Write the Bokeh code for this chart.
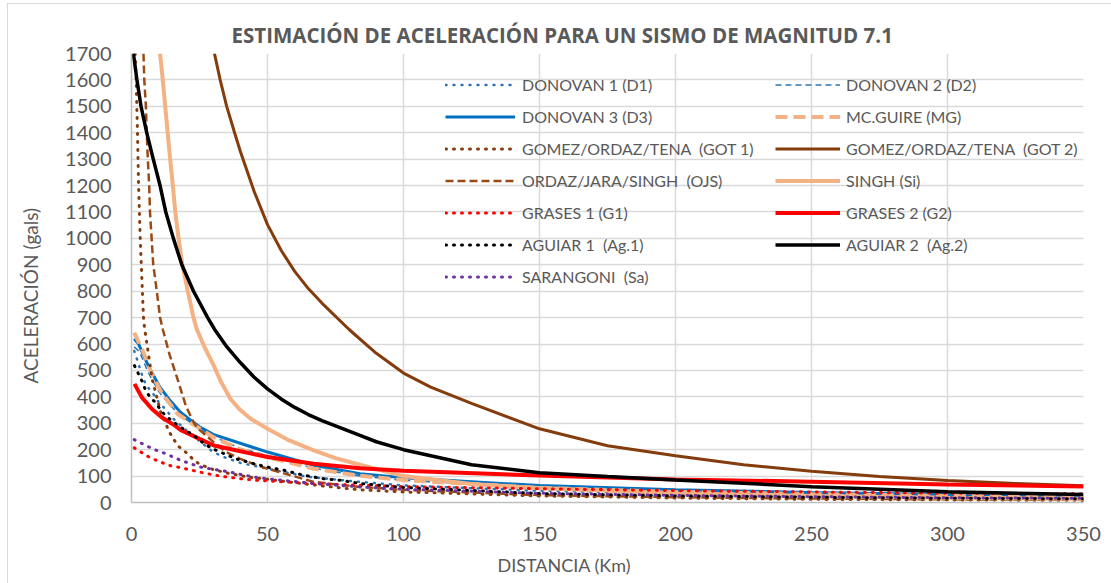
from bokeh.plotting import figure
from bokeh.models import Legend, LegendItem, FixedTicker, Range1d, Title
from bokeh.embed import file_html
from bokeh.resources import INLINE

TITLE = "ESTIMACIÓN DE ACELERACIÓN PARA UN SISMO DE MAGNITUD 7.1"
X_LABEL = "DISTANCIA (Km)"
Y_LABEL = "ACELERACIÓN (gals)"
X_TICKS = [0, 50, 100, 150, 200, 250, 300, 350]
Y_TICKS = [0, 100, 200, 300, 400, 500, 600, 700, 800, 900, 1000, 1100, 1200,
           1300, 1400, 1500, 1600, 1700]

# ---- series (distance km, acceleration gals) ----
D1_dist = [1, 2, 3.2, 4.4, 5.6, 8, 10, 12.4, 15.4, 20, 27, 30, 34, 40, 50, 65, 84, 100, 125, 150, 200, 250, 300, 350]
D1_acc = [574, 543, 505, 467, 442, 411, 380, 354, 317, 275, 216, 191, 172, 150, 128, 97, 78, 65, 54, 45, 35, 28, 23, 20]

D2_dist = [1, 3, 6, 10, 14, 18, 22, 26, 30, 40, 50, 67, 84, 100, 150, 200, 250, 300, 350]
D2_acc = [590, 570, 495, 420, 370, 330, 300, 272, 250, 205, 178, 130, 100, 84, 56, 42, 33, 27, 23]

D3_dist = [1, 2.6, 6.2, 10.5, 14.2, 18, 21, 25, 30, 42.5, 50, 67, 84, 100, 150, 200, 250, 300, 350]
D3_acc = [620, 600, 517, 436, 386, 342, 317, 287, 258, 216, 191, 141, 109, 94, 64, 48, 38, 30, 25]

MG_dist = [1, 4.4, 7.5, 11, 17, 23.4, 30, 40, 50, 67, 84, 100, 150, 200, 250, 300, 350]
MG_acc = [643, 568, 486, 417, 335, 291, 248, 200, 172, 128, 101, 85, 55, 40, 32, 25, 20]

GOT1_dist = [1.35, 1.7, 2.2, 2.6, 3.2, 4, 4.4, 4.8, 5.8, 7.6, 10.7, 14, 17, 20, 23, 25, 30, 35, 42.5, 50, 60, 70, 84, 100, 150, 200, 250, 300, 350]
GOT1_acc = [1700, 1600, 1400, 1200, 1000, 800, 700, 660, 592, 467, 343, 265, 215, 190, 160, 145, 125, 112, 97, 88, 75, 63, 48, 40, 25, 17, 12, 10, 8]

GOT2_dist = [30.5, 32.6, 35, 37.9, 40, 45, 50, 55, 60, 65, 70, 80, 90, 100, 110, 125, 150, 175, 200, 225, 250, 275, 300, 325, 350]
GOT2_acc = [1700, 1600, 1500, 1400, 1330, 1180, 1052, 955, 875, 810, 755, 655, 565, 490, 437, 375, 279, 215, 177, 143, 118, 98, 83, 72, 63]

OJS_dist = [4.4, 4.7, 5.3, 5.6, 6, 6.5, 6.8, 7.4, 8, 9.3, 10.5, 11.5, 14, 17.3, 20, 23, 25, 30, 35, 40, 45, 50, 67, 84, 100, 150, 200, 250, 300, 350]
OJS_acc = [1700, 1600, 1500, 1400, 1300, 1200, 1100, 1000, 900, 800, 700, 656, 560, 455, 365, 300, 275, 230, 190, 165, 145, 128, 78, 59, 48, 28, 20, 15, 12, 10]

SI_dist = [10.5, 11.5, 12.4, 13.3, 14.2, 15.2, 16.1, 17.3, 18.7, 20.7, 22.8, 24, 27, 30, 33, 36.4, 40, 43.8, 50, 58, 67, 75, 84, 100, 125, 150, 200, 250, 300, 350]
SI_acc = [1700, 1600, 1500, 1400, 1300, 1200, 1100, 1000, 900, 800, 700, 656, 585, 524, 455, 392, 350, 317, 279, 235, 197, 168, 143, 100, 70, 55, 35, 25, 18, 14]

G1_dist = [1, 3.3, 6.3, 9.5, 14, 18, 20.5, 26.5, 32.7, 40, 46, 50, 67, 84, 100, 150, 200, 250, 300, 350]
G1_acc = [207, 192, 173, 158, 140, 132, 126, 112, 100, 90, 84, 82, 72, 65, 60, 52, 45, 40, 35, 33]

G2_dist = [1.1, 3.8, 7.5, 11.1, 16, 18, 25, 30.3, 37.5, 44, 50, 67, 84, 100, 150, 200, 250, 300, 350]
G2_acc = [449, 398, 354, 323, 291, 275, 241, 216, 200, 185, 172, 147, 130, 120, 102, 87, 79, 68, 61]

AG1_dist = [1.1, 2.6, 3.8, 5, 6.8, 8.7, 10.5, 12.4, 14.8, 17.3, 20, 23, 25, 29.6, 32.7, 38.2, 45, 50, 56, 63.4, 70.7, 77, 84, 100, 150, 200, 250, 300, 350]
AG1_acc = [518, 486, 461, 430, 398, 380, 354, 329, 310, 291, 272, 254, 235, 204, 191, 166, 147, 134, 122, 103, 90, 84, 72, 57, 34, 25, 20, 16, 14]

AG2_dist = [0.7, 2, 3.5, 5.6, 8, 10.5, 12.6, 15.4, 18.5, 22.8, 28, 30.5, 35, 40, 45, 50, 55, 60, 65, 70, 75, 84, 90, 100, 125, 150, 175, 200, 250, 300, 350]
AG2_acc = [1700, 1600, 1500, 1400, 1300, 1200, 1100, 1000, 900, 800, 700, 656, 590, 530, 475, 430, 392, 360, 333, 310, 290, 254, 230, 200, 143, 113, 98, 85, 60, 41, 30]

SA_dist = [1, 3.3, 6.3, 9.5, 12.5, 18, 25.4, 30, 36, 41, 46, 50, 67, 84, 100, 150, 200, 250, 300, 350]
SA_acc = [238, 226, 211, 196, 185, 160, 134, 126, 116, 104, 95, 90, 72, 59, 50, 35, 27, 22, 18, 16]

NAMES = ["DONOVAN 1 (D1)", "DONOVAN 2 (D2)", "DONOVAN 3 (D3)", "MC.GUIRE (MG)",
         "GOMEZ/ORDAZ/TENA  (GOT 1)", "GOMEZ/ORDAZ/TENA  (GOT 2)",
         "ORDAZ/JARA/SINGH  (OJS)", "SINGH (Si)", "GRASES 1 (G1)", "GRASES 2 (G2)",
         "AGUIAR 1  (Ag.1)", "AGUIAR 2  (Ag.2)", "SARANGONI  (Sa)"]

SERIES = [
    (D1_dist, D1_acc, dict(line_color="#2E75B6", line_width=2.5, line_dash="1 7", line_cap="round")),
    (D2_dist, D2_acc, dict(line_color="#2E75B6", line_width=1.5, line_dash="6 4")),
    (D3_dist, D3_acc, dict(line_color="#0070C0", line_width=3)),
    (MG_dist, MG_acc, dict(line_color="#F4B183", line_width=4, line_dash="12 6")),
    (GOT1_dist, GOT1_acc, dict(line_color="#843C0C", line_width=3, line_dash="1 7", line_cap="round")),
    (GOT2_dist, GOT2_acc, dict(line_color="#843C0C", line_width=3)),
    (OJS_dist, OJS_acc, dict(line_color="#9A4A14", line_width=2.5, line_dash="8 4")),
    (SI_dist, SI_acc, dict(line_color="#F4B183", line_width=4)),
    (G1_dist, G1_acc, dict(line_color="#FF0000", line_width=3, line_dash="1 7", line_cap="round")),
    (G2_dist, G2_acc, dict(line_color="#FF0000", line_width=4)),
    (AG1_dist, AG1_acc, dict(line_color="#000000", line_width=3, line_dash="1 7", line_cap="round")),
    (AG2_dist, AG2_acc, dict(line_color="#000000", line_width=3.5)),
    (SA_dist, SA_acc, dict(line_color="#7030A0", line_width=3, line_dash="1 7", line_cap="round")),
]

GRAY = "#595959"
FONT = "Lato"

p = figure(width=1111, height=583, output_backend="svg", toolbar_location=None,
           x_range=Range1d(0, 350), y_range=Range1d(0, 1700),
           min_border_left=131, min_border_right=28, min_border_top=53, min_border_bottom=79)
p.background_fill_color = "white"
p.border_fill_color = "white"
p.border_fill_alpha = 0
p.outline_line_color = None
p.styles = {
    "background-color": "white",
    "background-image": "linear-gradient(#D9D9D9, #D9D9D9), linear-gradient(#D9D9D9, #D9D9D9)",
    "background-size": "1px 100%, 100% 1px",
    "background-position": "7px 3px, 7px 3px",
    "background-repeat": "no-repeat",
}

p.title.text = TITLE
p.title.text_font = "Open Sans"
p.title.text_font_size = "20.5px"
p.title.text_font_style = "bold"
p.title.text_color = GRAY
p.title.align = "left"
p.title.offset = 100

p.xaxis.ticker = FixedTicker(ticks=X_TICKS)
p.yaxis.ticker = FixedTicker(ticks=Y_TICKS)
p.xgrid.ticker = FixedTicker(ticks=X_TICKS)
p.ygrid.ticker = FixedTicker(ticks=Y_TICKS)
p.grid.grid_line_color = "#D9D9D9"
p.grid.grid_line_width = 1.5

for ax in (p.xaxis, p.yaxis):
    ax.axis_line_color = "#BFBFBF"
    ax.axis_line_width = 1.5
    ax.major_tick_line_color = None
    ax.minor_tick_line_color = None
    ax.major_tick_out = 0
    ax.major_tick_in = 0
    ax.minor_tick_out = 0
    ax.major_label_text_font = FONT
    ax.major_label_text_font_size = "20px"
    ax.major_label_text_color = GRAY

p.xaxis.major_label_standoff = 24
p.yaxis.major_label_standoff = 20

x_title = Title(text=X_LABEL, align="left", offset=366, text_font=FONT,
                text_font_size="18px", text_font_style="normal", text_color=GRAY,
                standoff=16)
p.add_layout(x_title, "below")

y_title = Title(text=Y_LABEL, align="left", offset=119, text_font=FONT,
                text_font_size="19px", text_font_style="normal", text_color=GRAY,
                vertical_align="top", standoff=37)
p.add_layout(y_title, "left")

renderers = []
for dist, acc, style in SERIES:
    r = p.line(dist, acc, **style)
    renderers.append(r)

left_idx = [0, 2, 4, 6, 8, 10, 12]
right_idx = [1, 3, 5, 7, 9, 11]

def make_legend(idx, loc, gw, standoff):
    lg = Legend(items=[LegendItem(label=NAMES[i], renderers=[renderers[i]]) for i in idx],
                location=loc, orientation="vertical")
    lg.label_text_font = FONT
    lg.label_text_font_size = "16px"
    lg.label_text_color = GRAY
    lg.glyph_width = gw
    lg.glyph_height = 21
    lg.label_height = 21
    lg.spacing = 11
    lg.padding = 0
    lg.margin = 0
    lg.label_standoff = standoff
    lg.border_line_color = None
    lg.background_fill_alpha = 0
    return lg

p.add_layout(make_legend(left_idx, (314, 215), 70, 7))
p.add_layout(make_legend(right_idx, (644, 247), 65, 6))

open("out.html", "w").write(file_html(p, INLINE))
